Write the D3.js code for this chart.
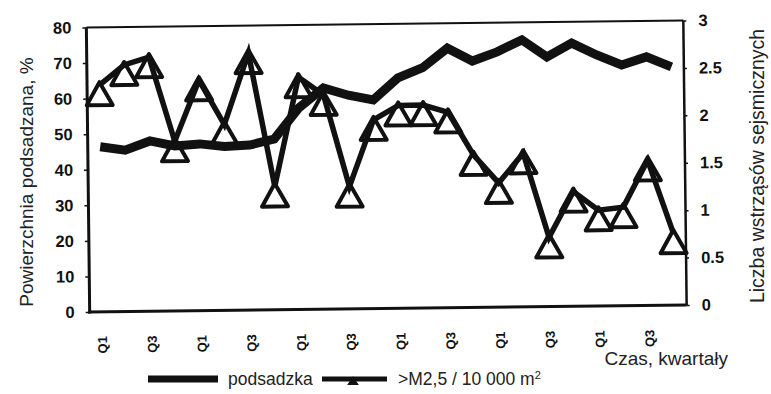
<!DOCTYPE html>
<html><head><meta charset="utf-8">
<script src="https://cdn.jsdelivr.net/npm/d3@7"></script>
<style>body{margin:0;background:#fff}svg{display:block}</style>
</head><body>
<svg id="c" width="771" height="394"></svg>
<script>
// ---- data ----
const quarters = ["Q1","Q2","Q3","Q4"];
const years = ["1","2","3","4","5","6"];
const categories = years.flatMap(y => quarters.map(q => y + "-" + q));
const podsadzka = [46.4,45.4,47.9,46.4,46.9,46.1,46.4,48.0,56.7,62.2,60.1,58.7,64.8,67.6,73.0,69.3,71.8,75.1,70.2,74.0,70.6,67.7,69.9,67.0];
const wstrzasy  = [2.39,2.60,2.68,1.79,2.43,1.96,2.71,1.30,2.45,2.26,1.29,1.99,2.14,2.14,2.06,1.61,1.31,1.62,0.73,1.21,1.01,1.04,1.53,0.76];
const leftTicks = [0,10,20,30,40,50,60,70,80];
const rightTicks = [0,0.5,1,1.5,2,2.5,3];
const shownQuarters = ["Q1","Q3"];
const seriesNames = ["podsadzka", ">M2,5 / 10 000 m"];
const leftTitle = "Powierzchnia podsadzana, %";
const rightTitle = "Liczba wstrząsów sejsmicznych";
const xTitle = "Czas, kwartały";

// ---- layout ----
const FONT = "'Liberation Sans', Arial, sans-serif";
const L = 88, R = 685, T = 24, B = 308.5;
const svg = d3.select("#c").style("font-family", FONT);

const x = d3.scaleBand().domain(categories).range([L, R]);
const cx = (d, i) => x(categories[i]) + x.bandwidth() / 2;
const yL = d3.scaleLinear().domain([0, 80]).range([B, T]);
const yR = d3.scaleLinear().domain([0, 3]).range([B, T]);

// whole plot slightly tilted like the scanned original
const g = svg.append("g").attr("transform", "rotate(-0.67," + ((L + R) / 2) + "," + ((T + B) / 2) + ")");

// frame
g.append("line").attr("x1", L).attr("x2", R).attr("y1", T).attr("y2", T).attr("stroke", "#111").attr("stroke-width", 2);
g.append("line").attr("x1", R).attr("x2", R).attr("y1", T).attr("y2", B).attr("stroke", "#111").attr("stroke-width", 2.5);
g.append("line").attr("x1", L).attr("x2", L).attr("y1", T).attr("y2", B + 1.5).attr("stroke", "#111").attr("stroke-width", 3);
g.append("line").attr("x1", L - 1.5).attr("x2", R).attr("y1", B).attr("y2", B).attr("stroke", "#111").attr("stroke-width", 3);

// axes
const axL = g.append("g").attr("transform", "translate(" + L + ",0)")
  .call(d3.axisLeft(yL).tickValues(leftTicks).tickSize(4).tickPadding(11).tickFormat(d3.format("d")));
const axR = g.append("g").attr("transform", "translate(" + R + ",0)")
  .call(d3.axisRight(yR).tickValues(rightTicks).tickSize(3).tickPadding(12).tickFormat(d => String(d)));
const axB = g.append("g").attr("transform", "translate(0," + B + ")")
  .call(d3.axisBottom(x).tickValues(categories.filter(c => shownQuarters.includes(c.split("-")[1])))
    .tickSize(0).tickFormat(c => c.split("-")[1]));
[axL, axR, axB].forEach(a => {
  a.select(".domain").remove();
  a.selectAll("line").attr("stroke", "#111").attr("stroke-width", 1.5);
  a.selectAll("text").attr("fill", "#111").style("font-family", FONT).style("font-weight", "bold");
});
axL.selectAll("text").style("font-size", "16.5px");
axR.selectAll("text").style("font-size", "16.5px");
axB.selectAll("text").style("font-size", "13px")
  .attr("x", 0).attr("y", 0).attr("dy", "0.35em")
  .attr("text-anchor", "middle")
  .attr("transform", "translate(0,33) rotate(-90)");

// seismic markers (hollow triangles, apex at the data point)
const tri = "M0,-3L13,20L-13,20Z";
g.append("g").selectAll("path").data(wstrzasy).join("path")
  .attr("d", tri)
  .attr("transform", (d, i) => "translate(" + cx(d, i) + "," + yR(d) + ")")
  .attr("fill", "#fff").attr("stroke", "#111").attr("stroke-width", 4).attr("stroke-linejoin", "round");

// seismic line
g.append("path").datum(wstrzasy)
  .attr("d", d3.line().x((d, i) => cx(d, i)).y(d => yR(d)))
  .attr("fill", "none").attr("stroke", "#111").attr("stroke-width", 5.5).attr("stroke-linejoin", "miter");

// podsadzka line
g.append("path").datum(podsadzka)
  .attr("d", d3.line().x((d, i) => cx(d, i)).y(d => yL(d)))
  .attr("fill", "none").attr("stroke", "#111").attr("stroke-width", 9).attr("stroke-linejoin", "miter");

// axis titles
svg.append("text").text(leftTitle)
  .attr("transform", "translate(33,182) rotate(-90)").attr("text-anchor", "middle")
  .style("font-size", "19px").attr("fill", "#222");
svg.append("text").text(rightTitle)
  .attr("transform", "translate(764,166) rotate(-90)").attr("text-anchor", "middle")
  .style("font-size", "19.5px").attr("fill", "#222");
svg.append("text").text(xTitle)
  .attr("x", 728).attr("y", 365).attr("text-anchor", "end")
  .style("font-size", "19px").attr("fill", "#222");

// legend
const lg = svg.append("g");
const LY = 379;
lg.append("line").attr("x1", 148).attr("x2", 218).attr("y1", LY).attr("y2", LY).attr("stroke", "#111").attr("stroke-width", 7);
lg.append("text").text(seriesNames[0]).attr("x", 228).attr("y", LY + 6).style("font-size", "17.5px").attr("fill", "#222");
lg.append("line").attr("x1", 322).attr("x2", 387).attr("y1", LY).attr("y2", LY).attr("stroke", "#111").attr("stroke-width", 5);
lg.append("path").attr("d", "M0,-1L4,5L-4,5Z").attr("transform", "translate(353," + LY + ")").attr("fill", "#111").attr("stroke", "#111").attr("stroke-width", 2);
const t2 = lg.append("text").attr("x", 398).attr("y", LY + 6).style("font-size", "17.5px").attr("fill", "#222");
t2.append("tspan").text(seriesNames[1]);
t2.append("tspan").text("2").attr("dy", -6).style("font-size", "11px");
</script>
</body></html>
